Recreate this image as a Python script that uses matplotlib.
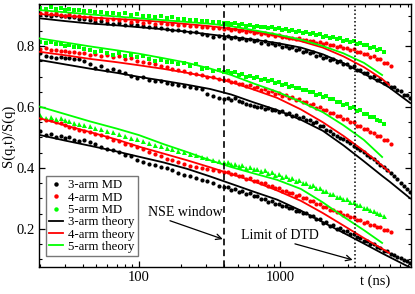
import numpy as np
import matplotlib
matplotlib.use("Agg")
import matplotlib.pyplot as plt
from matplotlib.ticker import FixedLocator, NullFormatter, MultipleLocator
from matplotlib.lines import Line2D

plt.rcParams['font.family'] = ['Liberation Serif', 'DejaVu Serif']
plt.rcParams['font.size'] = 10

# MD sampling times (ns)
t_md = [20, 22, 24, 26, 28, 30, 32, 35, 38, 41, 45, 49, 54, 60, 66, 73, 80, 88, 97, 107,
        118, 130, 143, 157, 173, 190, 209, 230, 253, 278, 305, 335, 368, 400,
        425, 450, 480, 510, 540, 575, 610, 650, 690, 730, 775, 820, 870, 920, 975, 1030,
        1090, 1150, 1220, 1290, 1360, 1440, 1520, 1610, 1700, 1800, 1900, 2010, 2120, 2240,
        2370, 2500, 2640, 2790, 2950, 3120, 3300, 3480, 3680, 3890, 4110, 4340, 4580, 4840,
        5110, 5400, 5700, 6020, 6360, 6720, 7100, 7500, 7920, 8300]

# ---- top set of curves
md3_a = [0.905, 0.902, 0.899, 0.903, 0.897, 0.900, 0.894, 0.896, 0.890, 0.888, 0.884, 0.880,
         0.882, 0.876, 0.874, 0.877, 0.870, 0.872, 0.868, 0.866, 0.862, 0.864, 0.858, 0.855,
         0.852, 0.854, 0.848, 0.845, 0.847, 0.840, 0.836, 0.829, 0.832, 0.826,
         0.832, 0.825, 0.829, 0.822, 0.827, 0.820, 0.824, 0.816, 0.819, 0.811, 0.815, 0.807,
         0.810, 0.803, 0.806, 0.798, 0.801, 0.793, 0.796, 0.788, 0.790, 0.782, 0.785, 0.776,
         0.779, 0.769, 0.771, 0.762, 0.765, 0.755, 0.757, 0.748, 0.750, 0.740, 0.742, 0.731,
         0.733, 0.721, 0.723, 0.711, 0.713, 0.700, 0.702, 0.690, 0.691, 0.679, 0.680, 0.667,
         0.667, 0.655, 0.654, 0.641, 0.640, 0.628]
md4_a = [0.909, 0.912, 0.905, 0.907, 0.903, 0.900, 0.904, 0.897, 0.899, 0.894, 0.896, 0.890,
         0.892, 0.887, 0.889, 0.884, 0.885, 0.880, 0.882, 0.877, 0.879, 0.874, 0.875, 0.871,
         0.872, 0.868, 0.869, 0.865, 0.866, 0.862, 0.863, 0.859, 0.860, 0.856,
         0.858, 0.853, 0.855, 0.850, 0.852, 0.847, 0.849, 0.843, 0.846, 0.840, 0.842, 0.836,
         0.839, 0.833, 0.835, 0.829, 0.831, 0.825, 0.828, 0.822, 0.825, 0.819, 0.821, 0.815,
         0.818, 0.811, 0.813, 0.806, 0.809, 0.802, 0.804, 0.797, 0.800, 0.792, 0.794, 0.786,
         0.789, 0.780, 0.782, 0.773, 0.775, 0.765, 0.767, 0.757, 0.757, 0.746, 0.745, 0.733]
md5_a = [0.925, 0.922, 0.927, 0.921, 0.924, 0.919, 0.922, 0.917, 0.919, 0.914, 0.916, 0.911,
         0.913, 0.908, 0.910, 0.905, 0.907, 0.902, 0.904, 0.899, 0.900, 0.895, 0.897, 0.892,
         0.894, 0.889, 0.890, 0.885, 0.887, 0.882, 0.883, 0.878, 0.880, 0.875,
         0.877, 0.872, 0.875, 0.870, 0.872, 0.867, 0.870, 0.864, 0.867, 0.861, 0.864, 0.858,
         0.861, 0.855, 0.858, 0.852, 0.855, 0.849, 0.852, 0.846, 0.849, 0.843, 0.845, 0.839,
         0.842, 0.835, 0.838, 0.831, 0.834, 0.827, 0.830, 0.823, 0.825, 0.818, 0.821, 0.813,
         0.816, 0.808, 0.810, 0.802, 0.804, 0.795, 0.797, 0.788, 0.789, 0.780]

# ---- middle set
md3_b = [0.776, 0.768, 0.765, 0.762, 0.764, 0.760, 0.762, 0.757, 0.759, 0.752, 0.740, 0.728,
         0.735, 0.722, 0.726, 0.718, 0.712, 0.703, 0.696, 0.698, 0.690, 0.684, 0.685, 0.680,
         0.676, 0.672, 0.670, 0.666, 0.664, 0.660, 0.642, 0.636, 0.630, 0.625,
         0.630, 0.624, 0.628, 0.619, 0.616, 0.611, 0.606, 0.603, 0.599, 0.601, 0.594, 0.596,
         0.589, 0.591, 0.584, 0.586, 0.578, 0.580, 0.571, 0.573, 0.565, 0.566, 0.557, 0.559,
         0.549, 0.550, 0.538, 0.537, 0.526, 0.522, 0.512, 0.505, 0.497, 0.494, 0.487, 0.482,
         0.473, 0.467, 0.459, 0.452, 0.444, 0.437, 0.428, 0.420, 0.411, 0.402, 0.393, 0.383,
         0.373, 0.363, 0.352, 0.342, 0.331, 0.321]
md4_b = [0.789, 0.792, 0.786, 0.788, 0.783, 0.785, 0.780, 0.782, 0.776, 0.778, 0.772, 0.774,
         0.768, 0.770, 0.764, 0.766, 0.759, 0.761, 0.752, 0.749, 0.744, 0.740, 0.736, 0.731,
         0.726, 0.722, 0.718, 0.713, 0.709, 0.705, 0.700, 0.697, 0.692, 0.688,
         0.688, 0.681, 0.683, 0.675, 0.677, 0.669, 0.671, 0.662, 0.665, 0.656, 0.659, 0.650,
         0.652, 0.643, 0.646, 0.637, 0.639, 0.630, 0.632, 0.623, 0.625, 0.615, 0.617, 0.607,
         0.609, 0.598, 0.600, 0.589, 0.591, 0.580, 0.581, 0.570, 0.571, 0.560, 0.561, 0.550,
         0.550, 0.539, 0.539, 0.528, 0.528, 0.517, 0.516, 0.505, 0.504, 0.493, 0.491, 0.480]
md5_b = [0.814, 0.811, 0.812, 0.806, 0.807, 0.801, 0.803, 0.797, 0.796, 0.790, 0.786, 0.781,
         0.784, 0.776, 0.772, 0.778, 0.766, 0.770, 0.764, 0.768, 0.757, 0.751, 0.754, 0.747,
         0.749, 0.741, 0.744, 0.736, 0.740, 0.725, 0.729, 0.719, 0.722, 0.716,
         0.718, 0.711, 0.714, 0.706, 0.709, 0.700, 0.703, 0.694, 0.697, 0.689, 0.692, 0.684,
         0.687, 0.679, 0.682, 0.673, 0.676, 0.667, 0.670, 0.661, 0.664, 0.655, 0.657, 0.648,
         0.650, 0.641, 0.643, 0.633, 0.635, 0.625, 0.627, 0.616, 0.618, 0.607, 0.609, 0.598,
         0.599, 0.588, 0.589, 0.578, 0.578, 0.567, 0.567, 0.556, 0.555, 0.544]

# ---- bottom set
md3_c = [0.522, 0.508, 0.513, 0.500, 0.504, 0.497, 0.500, 0.493, 0.488, 0.492, 0.486, 0.478,
         0.470, 0.462, 0.458, 0.452, 0.444, 0.440, 0.426, 0.420, 0.414, 0.410, 0.404, 0.399,
         0.393, 0.385, 0.378, 0.372, 0.366, 0.362, 0.356, 0.350, 0.342, 0.336,
         0.336, 0.329, 0.331, 0.322, 0.323, 0.315, 0.317, 0.307, 0.308, 0.297, 0.298, 0.289,
         0.290, 0.282, 0.282, 0.275, 0.276, 0.267, 0.268, 0.259, 0.260, 0.251, 0.252, 0.241,
         0.242, 0.231, 0.232, 0.221, 0.222, 0.211, 0.212, 0.201, 0.202, 0.192, 0.192, 0.182,
         0.182, 0.172, 0.171, 0.161, 0.161, 0.150, 0.149, 0.139, 0.138, 0.128, 0.127, 0.117,
         0.116, 0.107, 0.106, 0.097, 0.096, 0.087]
md4_c = [0.563, 0.556, 0.558, 0.550, 0.547, 0.541, 0.536, 0.532, 0.525, 0.522, 0.517, 0.510,
         0.507, 0.500, 0.493, 0.487, 0.480, 0.474, 0.468, 0.461, 0.451, 0.446, 0.438, 0.431,
         0.426, 0.419, 0.414, 0.408, 0.404, 0.401, 0.397, 0.394, 0.390, 0.387,
         0.386, 0.379, 0.381, 0.372, 0.374, 0.364, 0.366, 0.357, 0.358, 0.350, 0.350, 0.341,
         0.341, 0.333, 0.334, 0.326, 0.326, 0.318, 0.318, 0.309, 0.310, 0.300, 0.300, 0.291,
         0.291, 0.281, 0.281, 0.272, 0.272, 0.263, 0.263, 0.254, 0.255, 0.246, 0.247, 0.238,
         0.238, 0.229, 0.230, 0.221, 0.222, 0.213, 0.214, 0.205, 0.206, 0.197, 0.198, 0.189]
md5_c = [0.574, 0.565, 0.568, 0.560, 0.563, 0.556, 0.553, 0.548, 0.545, 0.540, 0.537, 0.530,
         0.527, 0.520, 0.517, 0.510, 0.506, 0.499, 0.494, 0.487, 0.482, 0.476, 0.472, 0.466,
         0.463, 0.457, 0.452, 0.447, 0.443, 0.437, 0.433, 0.427, 0.424, 0.419,
         0.419, 0.412, 0.414, 0.407, 0.409, 0.401, 0.403, 0.396, 0.398, 0.390, 0.392, 0.384,
         0.386, 0.377, 0.380, 0.371, 0.373, 0.365, 0.367, 0.358, 0.360, 0.350, 0.352, 0.342,
         0.343, 0.333, 0.334, 0.324, 0.325, 0.315, 0.316, 0.306, 0.306, 0.297, 0.297, 0.288,
         0.288, 0.279, 0.278, 0.270, 0.269, 0.261, 0.260, 0.252, 0.250, 0.242]

# theory curves
t_th = [20, 30, 45, 70, 100, 150, 220, 320, 450, 650, 950, 1400, 2000, 2800, 3900, 5250, 5900, 8300]
th3_a = [0.891, 0.882, 0.874, 0.868, 0.862, 0.855, 0.847, 0.838, 0.830, 0.821, 0.810, 0.795,
         0.773, 0.744, 0.709, 0.678, 0.664, 0.613]
th4_a = [0.905, 0.899, 0.894, 0.889, 0.885, 0.879, 0.872, 0.865, 0.857, 0.847, 0.834, 0.816,
         0.795, 0.766, 0.731, 0.692, 0.672]
th5_a = [0.918, 0.911, 0.904, 0.897, 0.891, 0.885, 0.879, 0.873, 0.865, 0.852, 0.838, 0.821,
         0.800, 0.776, 0.745, 0.705]
th3_b = [0.754, 0.740, 0.726, 0.712, 0.699, 0.686, 0.673, 0.659, 0.641, 0.615, 0.590, 0.558,
         0.522, 0.474, 0.422, 0.374, 0.356, 0.300]
th4_b = [0.781, 0.770, 0.758, 0.747, 0.737, 0.725, 0.712, 0.698, 0.682, 0.657, 0.630, 0.592,
         0.550, 0.505, 0.456, 0.408, 0.387]
th5_b = [0.825, 0.812, 0.799, 0.786, 0.775, 0.760, 0.745, 0.726, 0.705, 0.677, 0.650, 0.617,
         0.583, 0.540, 0.492, 0.436]
th3_c = [0.508, 0.490, 0.473, 0.454, 0.437, 0.418, 0.397, 0.372, 0.348, 0.322, 0.296, 0.260,
         0.222, 0.187, 0.152, 0.120, 0.108, 0.073]
th4_c = [0.563, 0.540, 0.518, 0.493, 0.470, 0.447, 0.425, 0.402, 0.380, 0.356, 0.326, 0.292,
         0.252, 0.211, 0.170, 0.135, 0.121]
th5_c = [0.601, 0.577, 0.553, 0.529, 0.508, 0.478, 0.452, 0.425, 0.403, 0.382, 0.361, 0.331,
         0.287, 0.240, 0.196, 0.154]

t_nse = 400
t_dtd = 3400

BLACK, RED, GREEN = 'black', '#ff0000', '#00ff00'

fig = plt.figure(figsize=(4.15, 2.94), dpi=100)
ax = fig.add_axes([39 / 415, 27 / 294, 372 / 415, 263 / 294])

# theory lines
for th3, th4, th5 in [(th3_a, th4_a, th5_a), (th3_b, th4_b, th5_b), (th3_c, th4_c, th5_c)]:
    ax.plot(t_th[:len(th3)], th3, color=BLACK, lw=1.3, zorder=3)
    ax.plot(t_th[:len(th4)], th4, color=RED, lw=1.3, zorder=3)
    ax.plot(t_th[:len(th5)], th5, color=GREEN, lw=1.3, zorder=3)

# MD points
ms = 3.0
for md3, md4, md5, mk5 in [(md3_a, md4_a, md5_a, 's'), (md3_b, md4_b, md5_b, 's'),
                            (md3_c, md4_c, md5_c, '^')]:
    ax.plot(t_md[:len(md3)], md3, 'o', color=BLACK, ms=ms, mew=0, zorder=2)
    ax.plot(t_md[:len(md4)], md4, 'o', color=RED, ms=ms, mew=0, zorder=2)
    ax.plot(t_md[:len(md5)], md5, mk5, color=GREEN, ms=ms if mk5 == 's' else 3.6, mew=0, zorder=2)

ax.axvline(t_nse, color='black', lw=1.2, ls=(0, (4, 2.5)), zorder=4)
ax.axvline(t_dtd, color='black', lw=1.1, ls=(0, (1, 1.5)), zorder=4)

ax.set_xscale('log')
ax.set_xlim(19.7, 8400)
ax.set_ylim(0.075, 0.938)

ax.xaxis.set_major_locator(FixedLocator([100, 1000]))
ax.set_xticklabels(['100', '1000'])
ax.xaxis.set_minor_locator(FixedLocator([20, 30, 40, 50, 60, 70, 80, 90,
                                         200, 300, 400, 500, 600, 700, 800, 900,
                                         2000, 3000, 4000, 5000, 6000, 7000, 8000]))
ax.xaxis.set_minor_formatter(NullFormatter())
ax.yaxis.set_major_locator(FixedLocator([0.2, 0.4, 0.6, 0.8]))
ax.yaxis.set_minor_locator(MultipleLocator(0.05))
ax.tick_params(which='both', direction='in', top=True, right=True, labelsize=10.5, pad=3)
ax.tick_params(which='major', length=4.5, width=0.9)
ax.tick_params(which='minor', length=2.5, width=0.8)
for s in ax.spines.values():
    s.set_linewidth(1.0)

ax.set_ylabel('S(q,t)/S(q)', fontsize=10.5, labelpad=1)
fig.text(375 / 415, 1 - 281 / 294, 't (ns)', ha='center', va='center', fontsize=10.5)

ax.text(0.392, 0.209, 'NSE window', transform=ax.transAxes, ha='center', va='center', fontsize=10)
ax.annotate('', xy=(0.494, 0.106), xytext=(0.352, 0.176), xycoords='axes fraction',
            arrowprops=dict(arrowstyle='->', color='black', lw=0.9, shrinkA=0, shrinkB=0))
ax.text(0.648, 0.118, 'Limit of DTD', transform=ax.transAxes, ha='center', va='center', fontsize=10)
ax.annotate('', xy=(0.843, 0.027), xytext=(0.688, 0.088), xycoords='axes fraction',
            arrowprops=dict(arrowstyle='->', color='black', lw=0.9, shrinkA=0, shrinkB=0))

handles = [
    Line2D([], [], ls='none', marker='o', color=BLACK, ms=3.2, mew=0),
    Line2D([], [], ls='none', marker='o', color=RED, ms=3.2, mew=0),
    Line2D([], [], ls='none', marker='o', color=GREEN, ms=3.2, mew=0),
    Line2D([], [], color=BLACK, lw=1.3),
    Line2D([], [], color=RED, lw=1.3),
    Line2D([], [], color=GREEN, lw=1.3),
]
labels = ['3-arm MD', '4-arm MD', '5-arm MD', '3-arm theory', '4-arm theory', '5-arm theory']
leg = ax.legend(handles, labels, loc='lower left', bbox_to_anchor=(0.019, 0.042),
                borderaxespad=0, fontsize=9.2, fancybox=False, framealpha=1,
                edgecolor='#777777', handlelength=1.1, handletextpad=0.4,
                labelspacing=0.02, borderpad=0.25, numpoints=1)
leg.get_frame().set_linewidth(1.0)

fig.savefig('out.png', dpi=100)
